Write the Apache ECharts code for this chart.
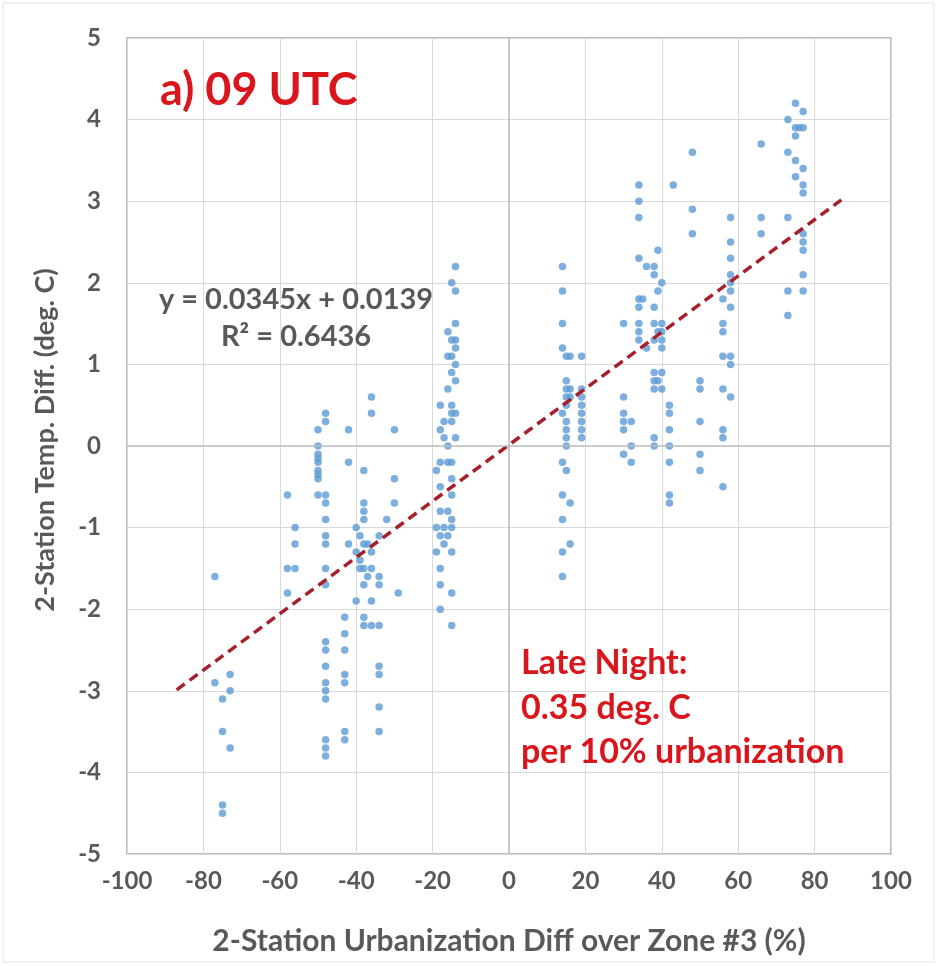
<!DOCTYPE html>
<html>
<head>
<meta charset="utf-8">
<script src="https://cdn.jsdelivr.net/npm/echarts@6/dist/echarts.min.js"></script>
<style>html,body{margin:0;padding:0;background:#fff}#c{width:938px;height:966px}</style>
</head>
<body>
<div id="c"></div>
<script>
// ---- data ----
const xTicks = [-100,-80,-60,-40,-20,0,20,40,60,80,100];
const yTicks = [-5,-4,-3,-2,-1,0,1,2,3,4,5];

const farLeft = [[-77,-1.6],[-77,-2.9],[-75,-3.1],[-75,-3.5],[-75,-4.4],[-75,-4.5],[-73,-2.8],[-73,-3.0],[-73,-3.7]];

const left = [[-58,-0.6],[-58,-1.5],[-58,-1.8],
[-56,-1.0],[-56,-1.2],[-56,-1.5],
[-50,0.2],[-50,0.0],[-50,-0.1],[-50,-0.15],[-50,-0.2],[-50,-0.3],[-50,-0.35],[-50,-0.4],[-50,-0.6],
[-48,0.4],[-48,0.3],[-48,-0.6],[-48,-0.7],[-48,-0.9],[-48,-1.1],[-48,-1.2],[-48,-1.5],[-48,-1.7],[-48,-2.4],[-48,-2.5],[-48,-2.7],[-48,-2.9],[-48,-3.0],[-48,-3.1],[-48,-3.6],[-48,-3.7],[-48,-3.8],
[-43,-2.1],[-43,-2.3],[-43,-2.5],[-43,-2.8],[-43,-2.9],[-43,-3.5],[-43,-3.6],
[-42,0.2],[-42,-0.2],[-42,-1.2],
[-40,-1.0],[-40,-1.3],[-40,-1.9],
[-39,-1.1],[-39,-1.4],[-39,-1.5],
[-38,-0.3],[-38,-0.7],[-38,-0.8],[-38,-0.9],[-38,-1.2],[-38,-1.5],[-38,-1.7],[-38,-2.1],[-38,-2.2],
[-37,-1.2],[-37,-1.6],
[-36,0.6],[-36,0.4],[-36,-1.3],[-36,-1.5],[-36,-1.9],[-36,-2.2],
[-34,-1.1],[-34,-1.6],[-34,-1.7],[-34,-2.2],[-34,-2.7],[-34,-2.8],[-34,-3.2],[-34,-3.5],
[-32,-0.9],[-30,0.2],[-30,-0.4],[-30,-0.7],[-29,-1.8]];

const midLeft = [[-14,2.2],[-15,2.0],[-14,1.9],[-14,1.5],[-16,1.4],[-14,1.3],[-15,1.3],[-14,1.2],[-15,1.1],[-16,1.1],[-14,1.0],[-15,0.9],[-14,0.8],[-16,0.7],[-18,0.5],[-15,0.5],[-15,0.4],[-14,0.4],[-17,0.3],[-15,0.3],[-18,0.2],[-17,0.1],[-14,0.1],[-16,0.0],[-18,-0.2],[-15,-0.2],[-16,-0.2],[-19,-0.3],[-15,-0.4],[-18,-0.5],[-15,-0.6],[-18,-0.8],[-16,-0.8],[-15,-0.9],[-19,-1.0],[-17,-1.0],[-15,-1.0],[-18,-1.1],[-16,-1.1],[-17,-1.2],[-19,-1.3],[-15,-1.3],[-18,-1.5],[-18,-1.7],[-15,-1.8],[-18,-2.0],[-15,-2.2]];

const midRight = [[14,2.2],[14,1.9],[14,1.5],[14,1.2],[15,1.1],[16,1.1],[19,1.1],[15,0.8],[15,0.7],[16,0.7],[15,0.6],[16,0.6],[19,0.7],[15,0.5],[19,0.6],[19,0.5],[14,0.4],[19,0.4],[15,0.3],[19,0.3],[15,0.2],[19,0.2],[15,0.1],[19,0.1],[15,0.0],[14,-0.2],[15,-0.3],[14,-0.6],[16,-0.7],[14,-0.9],[16,-1.2],[14,-1.3],[14,-1.6]];

const right = [[34,3.2],[34,3.0],[34,2.8],[43,3.2],[48,3.6],[48,2.9],[48,2.6],[39,2.4],[34,2.3],[36,2.2],[38,2.2],[38,2.1],[40,2.0],[39,1.9],[34,1.8],[35,1.8],[34,1.7],[38,1.7],[30,1.5],[34,1.5],[34,1.4],[34,1.3],[38,1.5],[40,1.5],[39,1.4],[40,1.4],[40,1.3],[40,1.2],[36,1.2],[38,1.3],[38,0.9],[40,0.9],[38,0.8],[39,0.8],[38,0.7],[40,0.7],[50,0.8],[50,0.7],[30,0.6],[42,0.5],[42,0.4],[30,0.4],[30,0.3],[32,0.3],[30,0.2],[50,0.3],[42,0.2],[38,0.1],[38,0.0],[32,0.0],[30,-0.1],[32,-0.2],[42,0.0],[42,-0.2],[50,-0.1],[50,-0.3],[42,-0.6],[42,-0.7]];

const farRight = [[56,1.8],[56,1.5],[56,1.4],[56,1.1],[56,0.7],[56,0.2],[56,0.1],[56,-0.5],
[58,2.8],[58,2.5],[58,2.3],[58,2.1],[58,2.0],[58,1.9],[58,1.7],[58,1.1],[58,1.0],[58,0.6],
[66,3.7],[66,2.8],[66,2.6],
[73,4.0],[73,3.6],[73,2.8],[73,1.9],[73,1.6],
[75,4.2],[75,3.9],[75,3.8],[75,3.5],[75,3.3],[76,3.9],
[77,4.1],[77,3.9],[77,3.4],[77,3.2],[77,3.1],[77,2.6],[77,2.5],[77,2.4],[77,2.1],[77,1.9]];

const trendSlope = 0.0345;
const trendIntercept = 0.0139;
const trendRange = [-87, 87];

// ---- chart ----
const points = [].concat(farLeft, left, midLeft, midRight, right, farRight);
const trend = trendRange.map(x => [x, trendSlope * x + trendIntercept]);

const FONT = 'Lato';
const GRAY = '#595959';
const RED = '#d9161c';
const mid = {align: 'center', verticalAlign: 'middle', textAlign: 'center', textVerticalAlign: 'middle'};
const lmid = {verticalAlign: 'middle', textVerticalAlign: 'middle'};

const chart = echarts.init(document.getElementById('c'), null, {renderer: 'canvas'});
chart.setOption({
  animation: false,
  backgroundColor: '#fff',
  grid: {left: 127, right: 47, top: 38, bottom: 112, show: true, borderColor: '#a6a6a6', borderWidth: 1.5, backgroundColor: 'transparent'},
  xAxis: {
    type: 'value', min: xTicks[0], max: xTicks[xTicks.length-1], interval: 20,
    axisLine: {show: false}, axisTick: {show: false},
    splitLine: {lineStyle: {color: '#d9d9d9', width: 1}},
    axisLabel: {color: GRAY, fontFamily: FONT, fontWeight: 'bold', fontSize: 24, margin: 15}
  },
  yAxis: {
    type: 'value', min: yTicks[0], max: yTicks[yTicks.length-1], interval: 1,
    axisLine: {show: false}, axisTick: {show: false},
    splitLine: {lineStyle: {color: '#d9d9d9', width: 1}},
    axisLabel: {color: GRAY, fontFamily: FONT, fontWeight: 'bold', fontSize: 24, margin: 26}
  },
  series: [
    {
      type: 'scatter', data: points, symbolSize: 7.5,
      itemStyle: {color: '#5b9bd5'}, z: 3,
      markLine: {
        silent: true, symbol: 'none', label: {show: false},
        lineStyle: {color: '#bfbfbf', type: 'solid', width: 1.5},
        data: [{xAxis: 0}, {yAxis: 0}]
      }
    },
    {
      type: 'line', data: trend, showSymbol: false, symbol: 'none', z: 4,
      lineStyle: {color: '#a5202a', width: 3.5, type: [10, 6]}
    }
  ],
  graphic: [
    {type: 'text', z: 100, x: 160, y: 90, style: Object.assign({text: 'a) 09 UTC', fill: RED, font: 'bold 45px ' + FONT}, lmid)},
    {type: 'text', z: 100, x: 296, y: 300, style: Object.assign({text: 'y = 0.0345x + 0.0139', fill: GRAY, font: 'bold 29px ' + FONT}, mid)},
    {type: 'text', z: 100, x: 296, y: 337, style: Object.assign({text: 'R² = 0.6436', fill: GRAY, font: 'bold 29px ' + FONT}, mid)},
    {type: 'text', z: 100, x: 521, y: 663, style: Object.assign({text: 'Late Night:', fill: RED, font: 'bold 34px ' + FONT}, lmid)},
    {type: 'text', z: 100, x: 521, y: 708, style: Object.assign({text: '0.35 deg. C', fill: RED, font: 'bold 34px ' + FONT}, lmid)},
    {type: 'text', z: 100, x: 521, y: 752, style: Object.assign({text: 'per 10% urbanization', fill: RED, font: 'bold 34px ' + FONT}, lmid)},
    {type: 'text', z: 100, x: 509, y: 941, style: Object.assign({text: '2-Station Urbanization Diff over Zone #3 (%)', fill: GRAY, font: 'bold 30px ' + FONT}, mid)},
    {type: 'text', z: 100, x: 45, y: 440, rotation: Math.PI / 2, style: Object.assign({text: '2-Station Temp. Diff. (deg. C)', fill: GRAY, font: 'bold 27px ' + FONT}, mid)},
    {type: 'rect', z: -1, shape: {x: 3, y: 3, width: 931, height: 959}, style: {fill: 'none', stroke: '#e3e3e3', lineWidth: 1}}
  ]
});
</script>
</body>
</html>
